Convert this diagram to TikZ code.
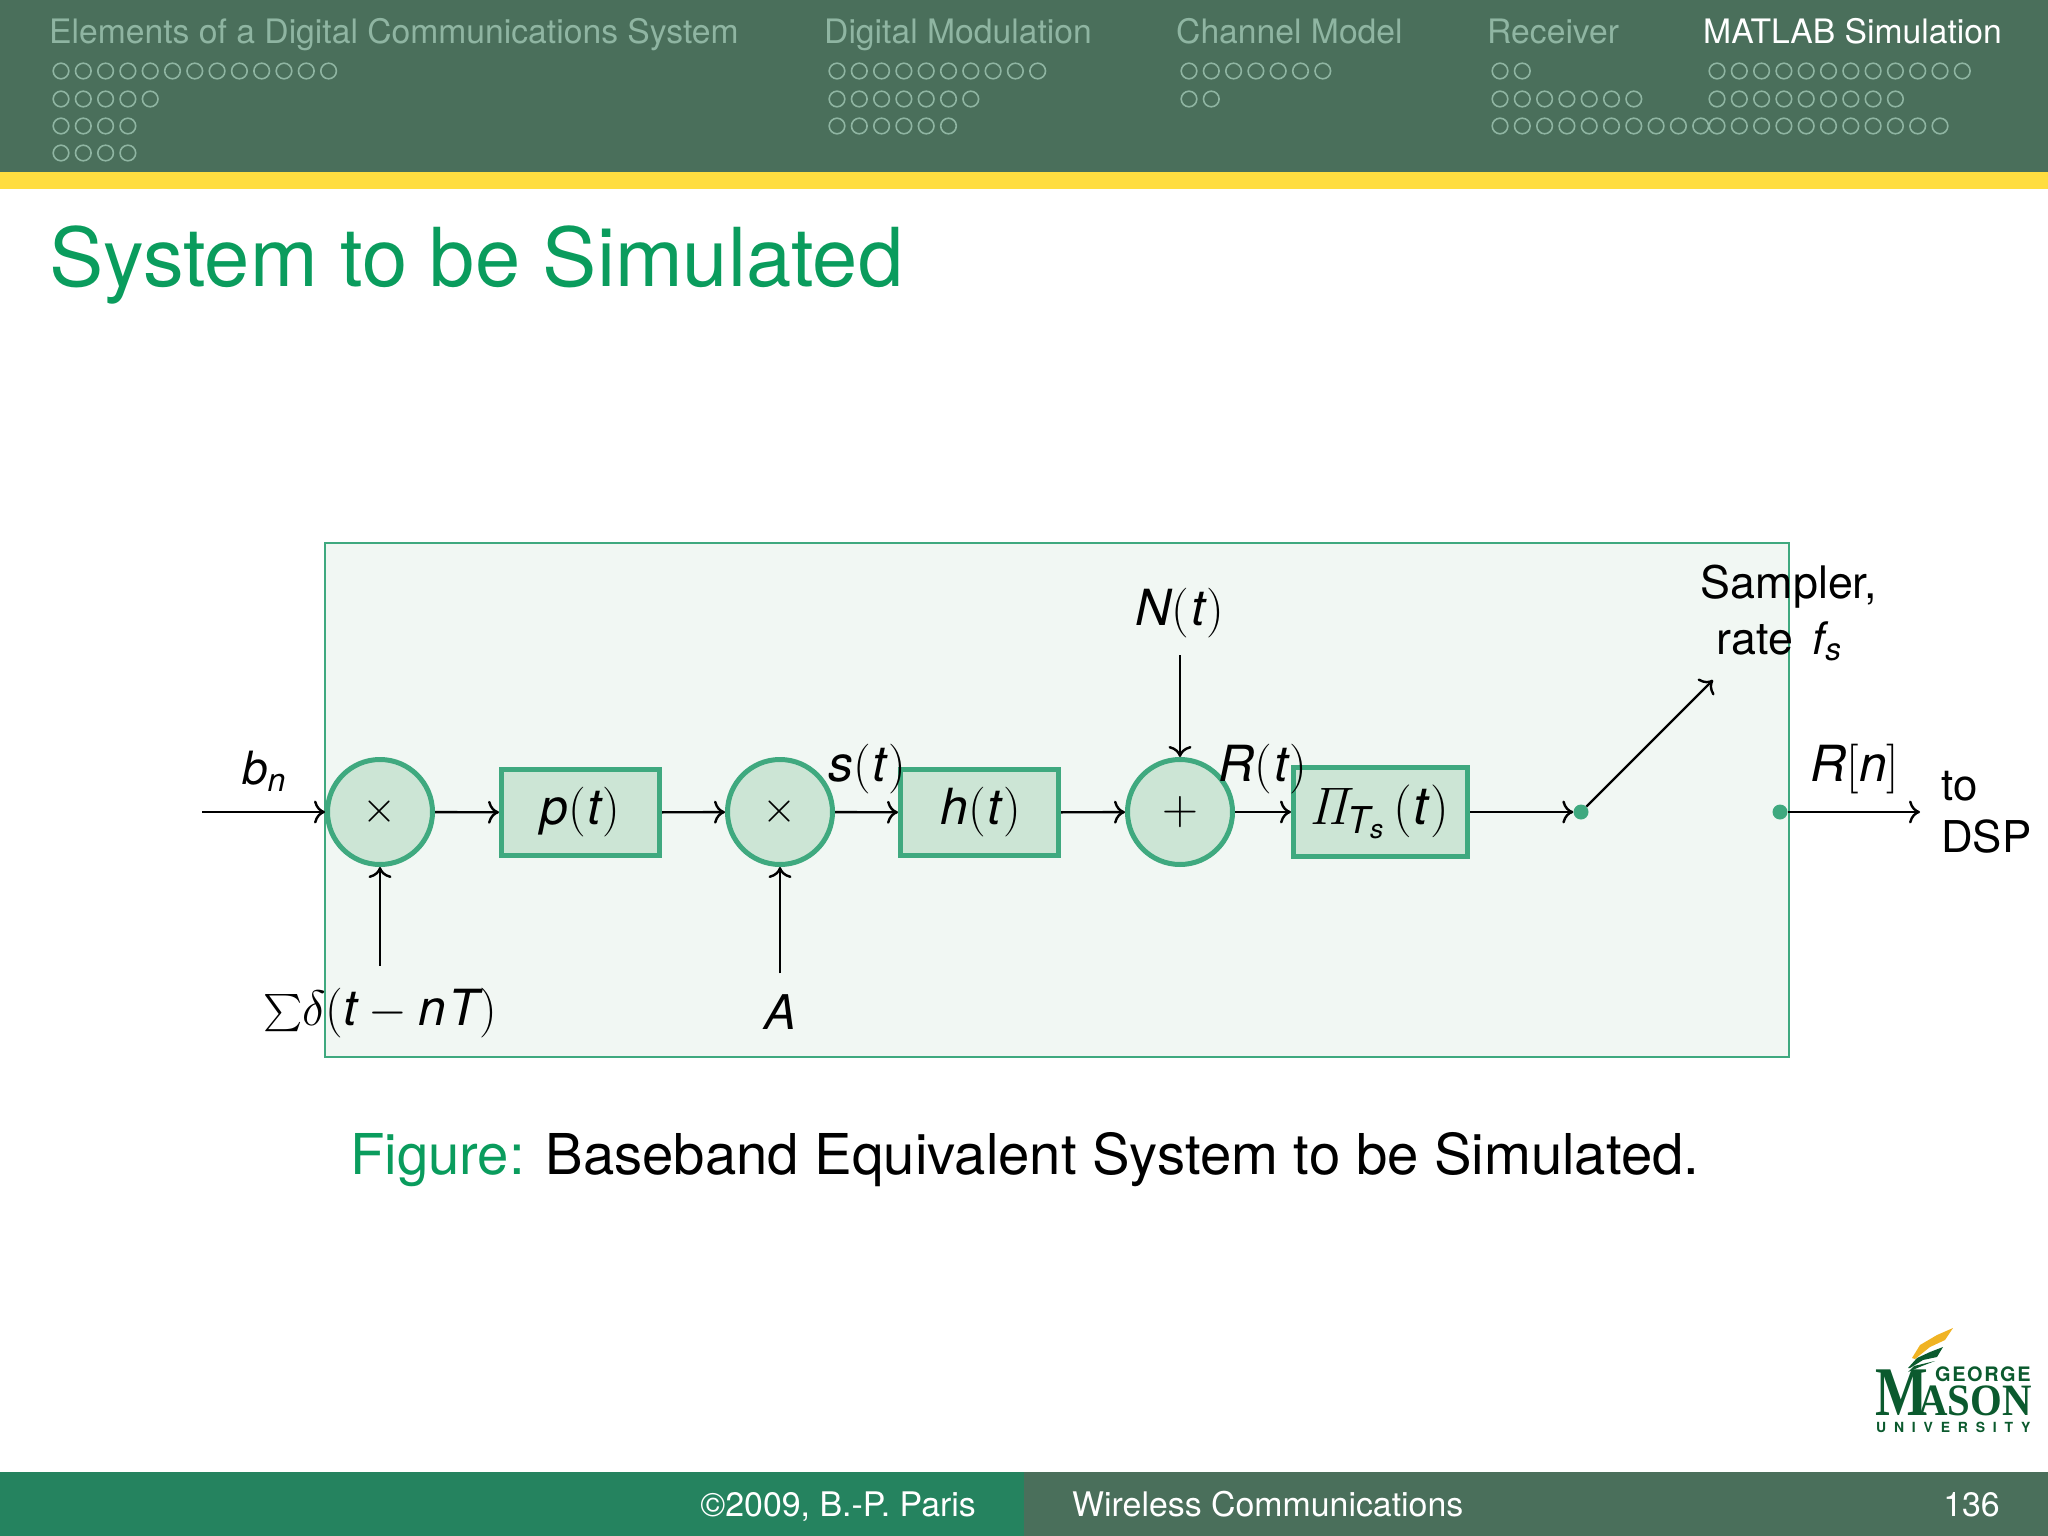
\documentclass[tikz,border=0pt]{standalone}
\usepackage{fix-cm}
\usepackage{amsmath}
\usepackage[no-math]{fontspec}
\usepackage{xcolor}
\usetikzlibrary{arrows.meta}
\setmainfont{TeX Gyre Heros}
\newfontfamily\logoSerif{Liberation Serif}
\newfontfamily\logoSansA[LetterSpace=8]{TeX Gyre Heros}
\newfontfamily\logoSansB[LetterSpace=56]{TeX Gyre Heros}
\definecolor{headColor}{HTML}{4A6F5B}
\definecolor{footColor}{HTML}{25835F}
\definecolor{barColor}{HTML}{FFDD40}
\definecolor{navColor}{HTML}{8FB5A2}
\definecolor{titleColor}{HTML}{0A9C5D}
\definecolor{boxColor}{HTML}{F1F7F3}
\definecolor{lineColor}{HTML}{3FA97F}
\definecolor{blockColor}{HTML}{CCE5D5}
\definecolor{logoGreen}{HTML}{0B5A2E}
\definecolor{logoGold}{HTML}{F0B323}
\newcommand{\mv}[1]{\text{\itshape #1}}
\newcommand{\tArg}{(\mkern.6mu\mv{t}\mkern.6mu)}
\tikzset{
  sigBlock/.style={draw=lineColor, line width=5bp, fill=blockColor, inner sep=0pt, minimum width=#1, minimum height=86bp},
  sigCircle/.style={circle, draw=lineColor, line width=5bp, fill=blockColor, inner sep=0pt, minimum size=105bp},
  sigDot/.style={circle, fill=lineColor, inner sep=0pt, minimum size=15bp},
  sigText/.style={font=\fontsize{50}{56}\selectfont, inner sep=0pt},
  sigLink/.style={-{Computer Modern Rightarrow[length=11bp, width=23bp]}, line width=2.4bp},
  navText/.style={font=\fontsize{33.8}{38}\selectfont, anchor=base west, inner sep=0pt},
  footText/.style={font=\fontsize{34}{38}\selectfont, text=white, inner sep=0pt}
}
\begin{document}
\begin{tikzpicture}[x=1bp,y=-1bp]
\useasboundingbox (0, 0) rectangle (2048, 1536);

% head bars
\fill[headColor] (0, 0) rectangle (2048, 172);
\fill[barColor] (0, 172) rectangle (2048, 189);

% section names
\node[navText, text=navColor] (navA) at (49, 44) {Elements of a Digital Communications System};
\node[navText, text=navColor] (navB) at (824, 44) {Digital Modulation};
\node[navText, text=navColor] (navC) at (1176, 44) {Channel Model};
\node[navText, text=navColor] (navD) at (1487, 44) {Receiver};
\node[navText, text=white] (navE) at (1703, 44) {MATLAB Simulation};

% section dots
\foreach \xpos/\ypos/\dotCount in {61/71/13, 61/99/5, 61/126/4, 61/153/4,
  837/71/10, 837/99/7, 837/126/6,
  1189/71/7, 1189/99/2,
  1500/71/2, 1500/99/7, 1500/126/10,
  1717/71/12, 1717/99/9, 1717/126/11} {
\foreach \dotNum in {1,...,\dotCount} {
\draw[navColor, line width=1.6bp] (\xpos+22.3*\dotNum-22.3, \ypos) circle (7.8bp);
}
}

% title
\node[anchor=base west, inner sep=0pt, text=titleColor, font=\fontsize{81.6}{90}\selectfont] (title) at (49, 286) {System to be Simulated};

% system box
\filldraw[fill=boxColor, draw=lineColor, line width=2bp] (325, 543) rectangle (1789, 1057);

% blocks
\node[sigCircle, font=\fontsize{44}{50}\selectfont] (multA) at (380, 812) {$\times$};
\node[sigBlock=158bp] (pulse) at (580.5, 812.5) {};
\node[sigCircle, font=\fontsize{44}{50}\selectfont] (multB) at (780, 812) {$\times$};
\node[sigBlock=158bp] (chan) at (979.5, 812.5) {};
\node[sigCircle, font=\fontsize{50}{56}\selectfont] (adder) at (1180, 812) {$+$};
\node[sigBlock=174bp, minimum height=89bp] (integ) at (1380.5, 812) {};
\node[sigDot] (dotA) at (1581, 812) {};
\node[sigDot] (dotB) at (1780, 812) {};

% block texts
\node[sigText] (pulseText) at (580.5, 812.5) {$\mv{p}\tArg$};
\node[sigText] (chanText) at (981, 812.5) {$\mv{h}\tArg$};
\node[sigText, font=\fontsize{53}{58}\selectfont] (integText) at (1379, 812) {$\mathit{\Pi}_{\mv{T}_{\mv{s}}}\,\tArg$};

% signal labels
\node[sigText, font=\fontsize{46}{52}\selectfont] (lblIn) at (264, 771) {$\mv{b}_{\mv{n}}$};
\node[sigText] (lblS) at (867, 769) {$\mv{s}\tArg$};
\node[sigText] (lblR) at (1263, 769) {$\mv{R}\tArg$};
\node[sigText, inner sep=17bp] (lblNoise) at (1180, 613) {$\mv{N}\tArg$};
\node[sigText, inner sep=22bp] (lblSum) at (380, 1013) {$\vcenter{\hbox{\scalebox{1.5}{$\sum$}}}\delta(\mv{t}-\mv{n}\mkern1mu\mv{T})$};
\node[sigText, font=\fontsize{48}{52}\selectfont, inner sep=21bp] (lblAmp) at (780, 1012) {$\mv{A}$};
\node[sigText] (lblOut) at (1855, 769) {$\mv{R}[\mv{n}]$};
\node[sigText, align=left, anchor=west, font=\fontsize{44}{52}\selectfont] (lblDsp) at (1941, 812) {to\\DSP};
\node[sigText, align=center, font=\fontsize{45}{56}\selectfont] (lblSampler) at (1789, 613) {Sampler,\\rate~\,$\mv{f}_{\mv{s}}$\hspace*{20bp}};

% free ends
\coordinate (inEnd) at (202, 812);
\coordinate (outEnd) at (1920, 812);
\coordinate (swEnd) at (1713, 680);

% links
\draw[sigLink] (inEnd) -- (multA);
\draw[sigLink] (multA) -- (pulse);
\draw[sigLink] (pulse) -- (multB);
\draw[sigLink] (multB) -- (chan);
\draw[sigLink] (chan) -- (adder);
\draw[sigLink] (adder) -- (integ);
\draw[sigLink] (integ) -- (dotA);
\draw[sigLink] (dotA) -- (swEnd);
\draw[sigLink] (dotB) -- (outEnd);
\draw[sigLink] (lblSum) -- (multA);
\draw[sigLink] (lblAmp) -- (multB);
\draw[sigLink] (lblNoise) -- (adder);

% caption
\node[anchor=base west, inner sep=0pt, font=\fontsize{56.5}{62}\selectfont] (caption) at (350, 1174) {\textcolor{titleColor}{Figure:} Baseband Equivalent System to be Simulated.};

% logo
\fill[logoGold] (1953, 1328) -- (1945, 1340) -- (1930, 1347) -- (1915, 1359) -- (1912, 1358) -- (1920, 1345) -- (1937, 1335) -- cycle;
\fill[logoGreen] (1943, 1347) -- (1937, 1357) -- (1923, 1360) -- (1910, 1368) -- (1908, 1368) -- (1917, 1358) -- (1930, 1352) -- cycle;
\fill[logoGreen] (1935, 1361) -- (1922, 1366) -- (1908, 1372) -- (1914, 1366) -- cycle;
\node[anchor=base west, inner sep=0pt, text=logoGreen, font=\logoSerif\bfseries\fontsize{70}{70}\selectfont] (logoM) at (1875, 1415) {\scalebox{.8}[1]{M}};
\node[anchor=base west, inner sep=0pt, text=logoGreen, font=\logoSerif\bfseries\fontsize{45}{45}\selectfont] (logoMason) at (1918, 1415) {\scalebox{.91}[1]{ASON}};
\node[anchor=base west, inner sep=0pt, text=logoGreen, font=\logoSansA\bfseries\fontsize{20}{20}\selectfont] (logoGeorge) at (1935, 1381) {GEORGE};
\node[anchor=base west, inner sep=0pt, text=logoGreen, font=\logoSansB\bfseries\fontsize{14}{14}\selectfont] (logoUniv) at (1876, 1432) {UNIVERSITY};

% foot bars
\fill[footColor] (0, 1472) rectangle (1024, 1536);
\fill[headColor] (1024, 1472) rectangle (2048, 1536);
\node[footText, anchor=base east] (footA) at (976, 1516) {\textcopyright 2009, B.-P. Paris};
\node[footText, anchor=base west] (footB) at (1072, 1516) {Wireless Communications};
\node[footText, anchor=base east] (footC) at (2000, 1516) {136};
\end{tikzpicture}
\end{document}
